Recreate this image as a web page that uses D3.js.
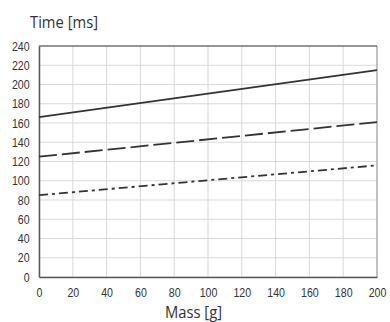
<!DOCTYPE html>
<html lang="en">
<head>
  <meta charset="UTF-8" />
  <title>Time vs Mass</title>
  <script src="https://cdn.jsdelivr.net/npm/d3@7/dist/d3.min.js"></script>
  <style>
    body { margin: 0; background: #fff; font-family: "Open Sans", Arial, sans-serif; }
    .tick text { font-family: Arial, "Liberation Sans", sans-serif; font-size: 12.5px; fill: #333; }
    .grid line { stroke: #d9d9d9; stroke-width: 1; }
  </style>
</head>
<body>
  <svg id="chart" width="390" height="322"></svg>
  <script>
    const width = 390;
    const height = 322;

    // data
    const massTicks = [0, 20, 40, 60, 80, 100, 120, 140, 160, 180, 200];
    const timeTicks = [0, 20, 40, 60, 80, 100, 120, 140, 160, 180, 200, 220, 240];
    const mass = [0, 200];
    const solidTimes = [166, 215];
    const dashedTimes = [125, 161];
    const dashDotTimes = [85, 116];

    const margin = { top: 46, right: 13, bottom: 45, left: 39 };
    const svg = d3.select("#chart");

    const x = d3.scaleLinear().domain([0, 200]).range([margin.left, width - margin.right]);
    const y = d3.scaleLinear().domain([0, 240]).range([height - margin.bottom, margin.top]);

    // grid
    const grid = svg.append("g").attr("class", "grid");
    grid.selectAll(".v").data(massTicks).enter().append("line")
      .attr("x1", d => x(d)).attr("x2", d => x(d))
      .attr("y1", y(0)).attr("y2", y(240));
    grid.selectAll(".h").data(timeTicks).enter().append("line")
      .attr("x1", x(0)).attr("x2", x(200))
      .attr("y1", d => y(d)).attr("y2", d => y(d));

    // frame
    svg.append("line").attr("x1", x(200)).attr("x2", x(200)).attr("y1", y(240)).attr("y2", y(0))
      .attr("stroke", "#a6a6a6").attr("stroke-width", 1.2);
    svg.append("line").attr("x1", x(0)).attr("x2", x(200)).attr("y1", y(240)).attr("y2", y(240))
      .attr("stroke", "#404040").attr("stroke-width", 1.2);

    // axes (labels look a bit narrow, so squeeze them horizontally)
    const xAxis = svg.append("g")
      .attr("transform", `translate(0,${y(0)})`)
      .call(d3.axisBottom(x).tickValues(massTicks).tickSize(0).tickPadding(11));
    xAxis.select(".domain").attr("stroke", "#595959").attr("stroke-width", 1.5);
    xAxis.selectAll(".tick text").attr("transform", "scale(0.85,1)");

    const yAxis = svg.append("g")
      .attr("transform", `translate(${x(0)},0)`)
      .call(d3.axisLeft(y).tickValues(timeTicks).tickSize(0).tickPadding(11));
    yAxis.select(".domain").attr("stroke", "#595959").attr("stroke-width", 1.5);
    yAxis.selectAll(".tick text").attr("transform", "scale(0.85,1)");

    // series
    const line = d3.line().x((d, i) => x(mass[i])).y(d => y(d));
    const series = [
      { values: solidTimes, dash: null },
      { values: dashedTimes, dash: "18,5" },
      { values: dashDotTimes, dash: "9,4,3,4" }
    ];
    svg.selectAll(".series").data(series).enter().append("path")
      .attr("class", "series")
      .attr("d", d => line(d.values))
      .attr("fill", "none")
      .attr("stroke", "#333")
      .attr("stroke-width", 1.8)
      .attr("stroke-dasharray", d => d.dash);

    // titles
    svg.append("text").attr("x", 30).attr("y", 28)
      .attr("font-size", 17).attr("fill", "#333")
      .attr("textLength", 68).attr("lengthAdjust", "spacingAndGlyphs")
      .text("Time [ms]");
    svg.append("text").attr("x", 165).attr("y", 318)
      .attr("font-size", 17).attr("fill", "#333")
      .attr("textLength", 57).attr("lengthAdjust", "spacingAndGlyphs")
      .text("Mass [g]");
  </script>
</body>
</html>
